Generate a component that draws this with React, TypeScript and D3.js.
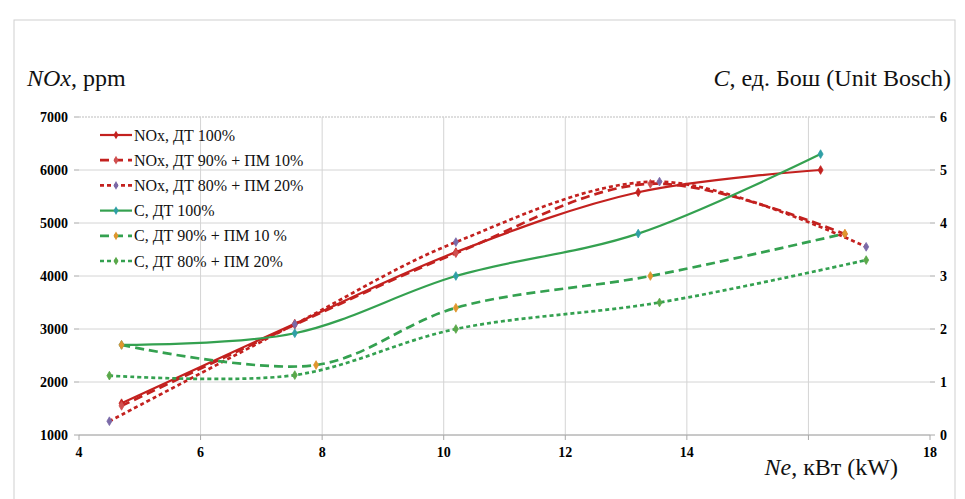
import React from "react";
import * as d3 from "d3";

// Ne, kW vs NOx (left axis, ppm) and C (right axis, Bosch units)
const noxDiesel = [
  [4.7, 1600], [7.55, 3100], [10.2, 4450], [13.2, 5580], [16.2, 6000],
];
const noxMix10 = [
  [4.7, 1550], [7.55, 3080], [10.2, 4430], [13.4, 5740], [16.6, 4790],
];
const noxMix20 = [
  [4.5, 1260], [7.55, 3090], [10.2, 4640], [13.55, 5780], [16.95, 4550],
];
const cDiesel = [
  [4.7, 1.7], [7.55, 1.92], [10.2, 3.0], [13.2, 3.8], [16.2, 5.3],
];
const cMix10 = [
  [4.7, 1.7], [7.9, 1.32], [10.2, 2.4], [13.4, 3.0], [16.6, 3.8],
];
const cMix20 = [
  [4.5, 1.12], [7.55, 1.13], [10.2, 2.0], [13.55, 2.5], [16.95, 3.3],
];

const leftTicks = [1000, 2000, 3000, 4000, 5000, 6000, 7000];
const rightTicks = [0, 1, 2, 3, 4, 5, 6];
const xTicks = [4, 6, 8, 10, 12, 14, 16, 18];
// the "16" label sits under the Ne title in the original, so it is not shown
const xLabels = [4, 6, 8, 10, 12, 14, 18];

const seriesList = [
  { name: "NOx, ДТ 100%", data: noxDiesel, axis: "left", color: "#c3211f", dash: "", marker: "#c3211f" },
  { name: "NOx, ДТ 90% + ПМ 10%", data: noxMix10, axis: "left", color: "#c3211f", dash: "9,5", marker: "#d05050" },
  { name: "NOx, ДТ 80% + ПМ 20%", data: noxMix20, axis: "left", color: "#c3211f", dash: "4,3", marker: "#7a6aa8" },
  { name: "C, ДТ 100%", data: cDiesel, axis: "right", color: "#34a150", dash: "", marker: "#2f9fa6" },
  { name: "C, ДТ 90% + ПМ 10 %", data: cMix10, axis: "right", color: "#34a150", dash: "9,5", marker: "#e0962d" },
  { name: "C, ДТ 80% + ПМ 20%", data: cMix20, axis: "right", color: "#34a150", dash: "4,3", marker: "#5aa84a" },
];

const W = 965;
const H = 499;
const plot = { left: 79, right: 930, top: 117, bottom: 435 };
const font = "Liberation Serif, Times New Roman, DejaVu Serif, serif";

export default function App() {
  const x = d3.scaleLinear().domain([4, 18]).range([plot.left, plot.right]);
  const yL = d3.scaleLinear().domain([1000, 7000]).range([plot.bottom, plot.top]);
  const yR = d3.scaleLinear().domain([0, 6]).range([plot.bottom, plot.top]);

  const makeLine = (scale: d3.ScaleLinear<number, number>) =>
    d3
      .line<number[]>()
      .x((d) => x(d[0]))
      .y((d) => scale(d[1]))
      .curve(d3.curveCatmullRom.alpha(0.5));

  const marker = d3.symbol(d3.symbolDiamond, 22)() || "";

  return (
    <svg
      width={W}
      height={H}
      style={{ position: "absolute", left: 0, top: 0, background: "#fff", fontFamily: font }}
    >
      <rect x={14} y={20} width={941} height={480} fill="none" stroke="#cfcfcf" />

      {/* gridlines */}
      {leftTicks.map((t) => (
        <line
          key={"h" + t}
          x1={plot.left}
          x2={plot.right}
          y1={yL(t)}
          y2={yL(t)}
          stroke={t === 7000 ? "#bdbdbd" : "#d4d4d4"}
          strokeDasharray={t === 7000 ? "2,1" : ""}
        />
      ))}
      {xTicks.slice(1, -1).map((t) => (
        <line key={"v" + t} x1={x(t)} x2={x(t)} y1={plot.top} y2={plot.bottom} stroke="#d4d4d4" />
      ))}
      <line x1={plot.left} x2={plot.right} y1={plot.bottom} y2={plot.bottom} stroke="#a8a8a8" />
      {leftTicks.map((t) => (
        <line key={"lt" + t} x1={plot.left - 5} x2={plot.left} y1={yL(t)} y2={yL(t)} stroke="#a8a8a8" />
      ))}
      {rightTicks.map((t) => (
        <line key={"rt" + t} x1={plot.right} x2={plot.right + 5} y1={yR(t)} y2={yR(t)} stroke="#a8a8a8" />
      ))}
      {xTicks.map((t) => (
        <line key={"xt" + t} x1={x(t)} x2={x(t)} y1={plot.bottom} y2={plot.bottom + 5} stroke="#a8a8a8" />
      ))}

      {/* tick labels */}
      {leftTicks.map((t) => (
        <text key={"ll" + t} x={plot.left - 11} y={yL(t)} dy="0.35em" textAnchor="end" fontSize={14} fontWeight="bold">
          {t}
        </text>
      ))}
      {rightTicks.map((t) => (
        <text key={"rl" + t} x={plot.right + 10} y={yR(t)} dy="0.35em" textAnchor="start" fontSize={14} fontWeight="bold">
          {t}
        </text>
      ))}
      {xLabels.map((t) => (
        <text key={"xl" + t} x={x(t)} y={plot.bottom + 22} textAnchor="middle" fontSize={14} fontWeight="bold">
          {t}
        </text>
      ))}

      {/* series */}
      {seriesList.map((s) => {
        const scale = s.axis === "left" ? yL : yR;
        return (
          <g key={s.name}>
            <path
              d={makeLine(scale)(s.data) || ""}
              fill="none"
              stroke={s.color}
              strokeWidth={s.dash ? 2.7 : 2.2}
              strokeDasharray={s.dash}
            />
            {s.data.map((d, i) => (
              <path
                key={i}
                d={marker}
                transform={`translate(${x(d[0])},${scale(d[1])})`}
                fill={s.marker}
                stroke={s.marker}
                strokeWidth={0.8}
              />
            ))}
          </g>
        );
      })}

      {/* legend */}
      {seriesList.map((s, i) => {
        const cy = 135 + i * 25.2;
        return (
          <g key={"lg" + i}>
            <line x1={100} x2={132} y1={cy} y2={cy} stroke={s.color} strokeWidth={s.dash ? 2.7 : 2.2} strokeDasharray={s.dash} />
            <path d={marker} transform={`translate(116,${cy})`} fill={s.marker} />
            <text x={134} y={cy} dy="0.35em" fontSize={16} fill="#111">
              {s.name}
            </text>
          </g>
        );
      })}

      {/* axis titles */}
      <text x={27} y={86} fontSize={24} fill="#111">
        <tspan fontStyle="italic">NOx</tspan>, ppm
      </text>
      <text x={951} y={86} fontSize={24} textAnchor="end" fill="#111">
        <tspan fontStyle="italic">C</tspan>, ед. Бош (Unit Bosch)
      </text>
      <text x={898} y={475} fontSize={24} textAnchor="end" fill="#111">
        <tspan fontStyle="italic">Ne</tspan>, кВт (kW)
      </text>
    </svg>
  );
}
